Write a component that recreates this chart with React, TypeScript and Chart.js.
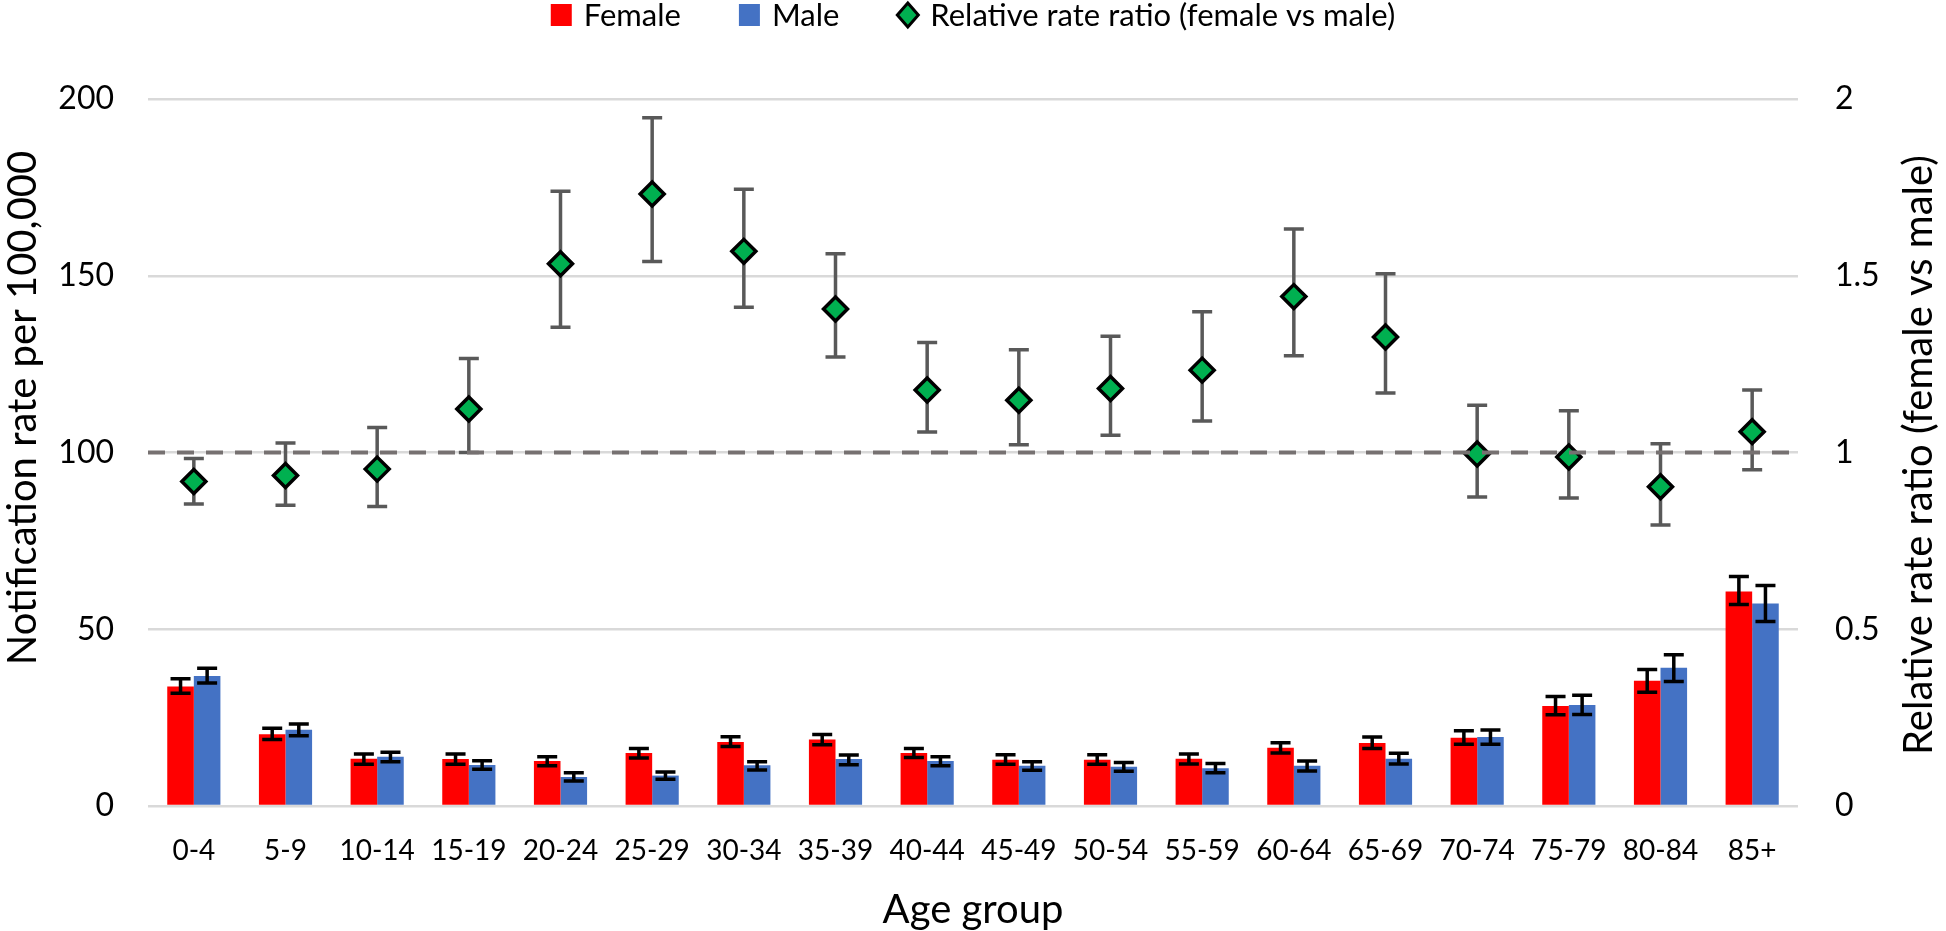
import React, { useEffect, useRef } from "react";
import { Chart, registerables } from "chart.js";

Chart.register(...registerables);

const ageGroups = ["0-4", "5-9", "10-14", "15-19", "20-24", "25-29", "30-34", "35-39", "40-44", "45-49", "50-54", "55-59", "60-64", "65-69", "70-74", "75-79", "80-84", "85+"];

const femaleRate = [33.8, 20.3, 13.4, 13.3, 12.7, 15.0, 18.1, 18.8, 15.0, 13.1, 13.1, 13.4, 16.5, 17.8, 19.3, 28.3, 35.4, 60.7];
const femaleLow = [31.9, 18.8, 11.8, 11.8, 11.4, 13.6, 16.8, 17.3, 13.7, 11.8, 11.8, 11.9, 15.0, 16.3, 17.5, 25.8, 32.2, 57.0];
const femaleHigh = [36.0, 22.0, 14.7, 14.7, 13.9, 16.3, 19.6, 20.2, 16.3, 14.5, 14.5, 14.7, 17.9, 19.5, 21.3, 31.0, 38.6, 64.9];

const maleRate = [36.8, 21.6, 13.9, 11.6, 8.2, 8.6, 11.5, 13.3, 12.7, 11.4, 11.1, 10.7, 11.4, 13.4, 19.5, 28.6, 39.1, 57.3];
const maleLow = [34.8, 19.9, 12.5, 10.4, 7.1, 7.6, 10.2, 11.7, 11.4, 10.1, 9.8, 9.4, 9.9, 11.9, 17.5, 25.9, 35.2, 52.2];
const maleHigh = [39.0, 23.2, 15.2, 12.8, 9.4, 9.6, 12.5, 14.4, 13.9, 12.5, 12.3, 12.0, 12.7, 14.9, 21.5, 31.3, 42.8, 62.4];

const ratio = [0.918, 0.935, 0.953, 1.123, 1.534, 1.731, 1.569, 1.406, 1.177, 1.148, 1.181, 1.233, 1.441, 1.327, 0.996, 0.987, 0.903, 1.059];
const ratioLow = [0.854, 0.851, 0.847, 1.0, 1.354, 1.54, 1.411, 1.27, 1.058, 1.022, 1.049, 1.089, 1.274, 1.168, 0.874, 0.871, 0.795, 0.951];
const ratioHigh = [0.983, 1.027, 1.071, 1.266, 1.739, 1.947, 1.745, 1.562, 1.311, 1.291, 1.329, 1.398, 1.632, 1.506, 1.134, 1.118, 1.025, 1.177];

const leftTicks = [0, 50, 100, 150, 200];
const rightTicks = [0, 0.5, 1, 1.5, 2];
const referenceRatio = 1;

const FONT = "Lato, 'Open Sans', sans-serif";

const decorPlugin = {
  id: "decor",
  beforeDatasetDraw(chart: any, args: any) {
    if (args.index !== 2) return;
    const ctx = chart.ctx;
    const y = chart.scales.y;
    const y2 = chart.scales.y2;
    ctx.save();
    const barSets = [
      { idx: 0, lo: femaleLow, hi: femaleHigh },
      { idx: 1, lo: maleLow, hi: maleHigh },
    ];
    ctx.strokeStyle = "#000000";
    ctx.lineWidth = 3.5;
    for (const s of barSets) {
      const meta = chart.getDatasetMeta(s.idx);
      meta.data.forEach((el: any, i: number) => {
        const x = el.x;
        const yl = y.getPixelForValue(s.lo[i]);
        const yh = y.getPixelForValue(s.hi[i]);
        ctx.beginPath();
        ctx.moveTo(x, yl);
        ctx.lineTo(x, yh);
        ctx.moveTo(x - 10, yl);
        ctx.lineTo(x + 10, yl);
        ctx.moveTo(x - 10, yh);
        ctx.lineTo(x + 10, yh);
        ctx.stroke();
      });
    }
    ctx.strokeStyle = "#595959";
    ctx.lineWidth = 3.5;
    const meta = chart.getDatasetMeta(2);
    meta.data.forEach((el: any, i: number) => {
      const x = el.x;
      const yl = y2.getPixelForValue(ratioLow[i]);
      const yh = y2.getPixelForValue(ratioHigh[i]);
      ctx.beginPath();
      ctx.moveTo(x, yl);
      ctx.lineTo(x, yh);
      ctx.moveTo(x - 10, yl);
      ctx.lineTo(x + 10, yl);
      ctx.moveTo(x - 10, yh);
      ctx.lineTo(x + 10, yh);
      ctx.stroke();
    });
    ctx.restore();
  },
  afterDatasetsDraw(chart: any) {
    const ctx = chart.ctx;
    const area = chart.chartArea;
    const yr = chart.scales.y2.getPixelForValue(referenceRatio);
    ctx.save();
    ctx.strokeStyle = "#767171";
    ctx.lineWidth = 4;
    ctx.setLineDash([17, 12]);
    ctx.beginPath();
    ctx.moveTo(area.left, yr);
    ctx.lineTo(area.right, yr);
    ctx.stroke();
    ctx.restore();
  },
  afterDraw(chart: any) {
    const ctx = chart.ctx;
    const area = chart.chartArea;
    ctx.save();
    ctx.fillStyle = "#000000";
    ctx.textAlign = "center";
    ctx.textBaseline = "middle";
    ctx.font = `40px ${FONT}`;
    ctx.save();
    ctx.translate(23, 408);
    ctx.rotate(-Math.PI / 2);
    ctx.fillText("Notification rate per 100,000", 0, 0);
    ctx.restore();
    ctx.save();
    ctx.translate(1919, 455);
    ctx.rotate(-Math.PI / 2);
    ctx.fillText("Relative rate ratio (female vs male)", 0, 0);
    ctx.restore();
    ctx.fillText("Age group", (area.left + area.right) / 2, 910);

    ctx.font = `31px ${FONT}`;
    const items = chart.data.datasets.map((ds: any, i: number) => ({
      label: ds.label,
      kind: i < 2 ? "rect" : "diamond",
      fill: ds.backgroundColor,
    }));
    const box = 21;
    const gapText = 12;
    const gapItem = 58;
    let total = 0;
    const widths = items.map((it: any) => ctx.measureText(it.label).width);
    items.forEach((_: any, i: number) => {
      total += box + gapText + widths[i];
      if (i < items.length - 1) total += gapItem;
    });
    let x = (chart.width - total) / 2;
    const cy = 15;
    ctx.textAlign = "left";
    items.forEach((it: any, i: number) => {
      if (it.kind === "rect") {
        ctx.fillStyle = it.fill;
        ctx.fillRect(x, cy - 11, box, 22);
      } else {
        ctx.fillStyle = it.fill;
        ctx.strokeStyle = "#000";
        ctx.lineWidth = 3;
        ctx.beginPath();
        ctx.moveTo(x + box / 2, cy - 12);
        ctx.lineTo(x + box, cy);
        ctx.lineTo(x + box / 2, cy + 12);
        ctx.lineTo(x, cy);
        ctx.closePath();
        ctx.fill();
        ctx.stroke();
      }
      ctx.fillStyle = "#000";
      ctx.fillText(it.label, x + box + gapText, cy + 1);
      x += box + gapText + widths[i] + gapItem;
    });
    ctx.restore();
  },
};

export default function App() {
  const ref = useRef<HTMLCanvasElement | null>(null);
  useEffect(() => {
    if (!ref.current) return;
    const chart = new Chart(ref.current, {
      type: "bar",
      data: {
        labels: ageGroups,
        datasets: [
          {
            type: "bar",
            label: "Female",
            data: femaleRate,
            backgroundColor: "#FF0000",
            yAxisID: "y",
            order: 1,
            categoryPercentage: 0.58,
            barPercentage: 1.0,
          },
          {
            type: "bar",
            label: "Male",
            data: maleRate,
            backgroundColor: "#4472C4",
            yAxisID: "y",
            order: 1,
            categoryPercentage: 0.58,
            barPercentage: 1.0,
          },
          {
            type: "line",
            label: "Relative rate ratio (female vs male)",
            data: ratio,
            yAxisID: "y2",
            showLine: false,
            pointStyle: "rectRot",
            pointRadius: 12,
            pointHoverRadius: 12,
            pointBorderWidth: 3.5,
            borderColor: "#000000",
            pointBorderColor: "#000000",
            backgroundColor: "#00B050",
            pointBackgroundColor: "#00B050",
            order: 0,
          } as any,
        ],
      },
      options: {
        animation: false,
        responsive: false,
        maintainAspectRatio: false,
        layout: { padding: { top: 99, left: 0, right: 0, bottom: 0 } },
        plugins: {
          legend: { display: false },
          tooltip: { enabled: false },
        },
        scales: {
          x: {
            grid: { display: false, drawTicks: false },
            border: { display: false },
            ticks: { color: "#000", font: { family: FONT, size: 28 }, padding: 28, maxRotation: 0, autoSkip: false },
            afterFit: (s: any) => { s.height = 125; },
          },
          y: {
            position: "left",
            min: 0,
            max: 200,
            afterBuildTicks: (s: any) => { s.ticks = leftTicks.map((v) => ({ value: v })); },
            ticks: { color: "#000", font: { family: FONT, size: 32 }, padding: 34 },
            grid: { color: "#D9D9D9", lineWidth: 2.5, drawTicks: false },
            border: { display: false },
            afterFit: (s: any) => { s.width = 148; },
          },
          y2: {
            position: "right",
            min: 0,
            max: 2,
            afterBuildTicks: (s: any) => { s.ticks = rightTicks.map((v) => ({ value: v })); },
            ticks: { color: "#000", font: { family: FONT, size: 32 }, padding: 37, callback: (v: any) => String(v) },
            grid: { display: false, drawTicks: false },
            border: { display: false },
            afterFit: (s: any) => { s.width = 148; },
          },
        },
      } as any,
      plugins: [decorPlugin],
    });
    return () => chart.destroy();
  }, []);
  return (
    <div style={{ position: "absolute", left: 0, top: 0, width: 1946, height: 931, background: "#fff" }}>
      <canvas ref={ref} width={1946} height={931} style={{ width: 1946, height: 931, display: "block" }} />
    </div>
  );
}
